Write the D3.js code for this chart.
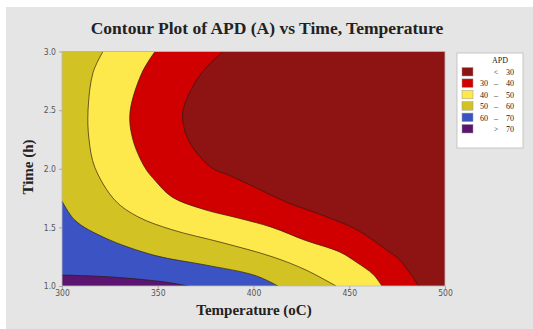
<!DOCTYPE html>
<html>
<head>
<meta charset="utf-8">
<script src="https://cdn.jsdelivr.net/npm/d3@7"></script>
<style>
  html, body { margin: 0; padding: 0; background: #fff; }
  svg { display: block; }
  .tick text { fill: #555; font: 8.5px "DejaVu Sans Condensed", "Liberation Sans", sans-serif; }
  .tick line, .domain { stroke: #aaa; }
</style>
</head>
<body>
<div id="chart"></div>
<script>
// APD legend bands, darkest (lowest APD) first
const bandLabels = [["", "<", "30"], ["30", "–", "40"], ["40", "–", "50"], ["50", "–", "60"], ["60", "–", "70"], ["", ">", "70"]];
const bandColors = ["#8e1414", "#d00000", "#fde94b", "#d3c224", "#3c54c3", "#5b1470"];
const tempTicks = [300, 350, 400, 450, 500];
const timeTicks = [1.0, 1.5, 2.0, 2.5, 3.0];

// contour lines: [temperature, time]
const line30 = [[384, 3.0], [373, 2.82], [365, 2.59], [363, 2.47], [364, 2.33], [368, 2.19], [378, 2.01], [388, 1.94], [401, 1.84], [418, 1.71], [435, 1.61], [454, 1.48], [467.6, 1.33], [476.5, 1.22], [481.7, 1.11], [486.4, 1.0]];
const line40 = [[348.6, 3.0], [341.8, 2.82], [335.5, 2.48], [337, 2.25], [343.3, 2.01], [348.6, 1.9], [357.4, 1.76], [374.7, 1.65], [391.9, 1.58], [409.7, 1.5], [426.9, 1.39], [445, 1.29], [454, 1.2], [462.4, 1.1], [467.1, 1.0]];
const line50 = [[321.4, 3.0], [316.2, 2.82], [313.6, 2.5], [314.1, 2.25], [317.2, 2.01], [327.7, 1.73], [339.7, 1.59], [357.4, 1.48], [383.6, 1.37], [409.7, 1.25], [426.9, 1.14], [443.1, 1.0]];
const line60 = [[300, 1.725], [306.8, 1.56], [322.5, 1.41], [348.6, 1.26], [374.7, 1.18], [400.8, 1.09], [412.8, 1.0]];
const line70 = [[300, 1.094], [326, 1.077], [353.8, 1.034], [365.8, 1.0]];

const W = 533, H = 329;
const plot = { left: 62, right: 445, top: 51.5, bottom: 286 };

const svg = d3.select("#chart").append("svg").attr("width", W).attr("height", H);
svg.append("rect").attr("x", 6).attr("y", 7).attr("width", W - 6).attr("height", H - 7).attr("fill", "#e5e5e5");

const x = d3.scaleLinear().domain([300, 500]).range([plot.left, plot.right]);
const y = d3.scaleLinear().domain([1, 3]).range([plot.bottom, plot.top]);

svg.append("clipPath").attr("id", "plotClip").append("rect")
  .attr("x", plot.left).attr("y", plot.top).attr("width", plot.right - plot.left).attr("height", plot.bottom - plot.top);

const g = svg.append("g").attr("clip-path", "url(#plotClip)");
// lowest layer is the > 70 band
g.append("rect").attr("x", plot.left).attr("y", plot.top).attr("width", plot.right - plot.left).attr("height", plot.bottom - plot.top).attr("fill", bandColors[5]);

const curve = d3.line().x((d) => x(d[0])).y((d) => y(d[1])).curve(d3.curveCatmullRom.alpha(0.5));
const corners = [[500, 1], [500, 3], [300, 3]];
const lines = [line70, line60, line50, line40, line30];
lines.forEach((pts, i) => {
  const tail = corners.map((c) => `L${x(c[0])},${y(c[1])}`).join("");
  g.append("path").attr("d", curve(pts) + tail + "Z").attr("fill", bandColors[4 - i]);
});
g.selectAll("path.contour").data(lines).join("path").attr("class", "contour")
  .attr("d", (d) => curve(d)).attr("fill", "none").attr("stroke", "#2a1a10").attr("stroke-width", 0.8).attr("stroke-opacity", 0.85);

svg.append("rect").attr("x", plot.left).attr("y", plot.top).attr("width", plot.right - plot.left).attr("height", plot.bottom - plot.top)
  .attr("fill", "none").attr("stroke", "#bbb").attr("stroke-width", 0.8);

svg.append("g").attr("transform", `translate(0,${plot.bottom})`)
  .call(d3.axisBottom(x).tickValues(tempTicks).tickSize(3).tickPadding(1).tickFormat(d3.format("d")))
  .call((a) => a.select(".domain").remove());
svg.append("g").attr("transform", `translate(${plot.left},0)`)
  .call(d3.axisLeft(y).tickValues(timeTicks).tickSize(3).tickPadding(3).tickFormat(d3.format(".1f")))
  .call((a) => a.select(".domain").remove());

const serif = '"Liberation Serif", "DejaVu Serif", serif';
svg.append("text").attr("x", 267).attr("y", 34).attr("text-anchor", "middle")
  .attr("font-family", serif).attr("font-weight", "bold").attr("font-size", 17.5).attr("fill", "#222")
  .text("Contour Plot of APD (A) vs Time, Temperature");
svg.append("text").attr("x", 254).attr("y", 315).attr("text-anchor", "middle")
  .attr("font-family", serif).attr("font-weight", "bold").attr("font-size", 15).attr("fill", "#222")
  .text("Temperature (oC)");
svg.append("text").attr("transform", "translate(33,167) rotate(-90)").attr("text-anchor", "middle")
  .attr("font-family", serif).attr("font-weight", "bold").attr("font-size", 15).attr("fill", "#222")
  .text("Time (h)");

// legend
const lg = svg.append("g").attr("transform", "translate(457,53)");
lg.append("rect").attr("width", 66).attr("height", 95).attr("fill", "#fff").attr("stroke", "#bbb").attr("stroke-width", 0.8);
lg.append("text").attr("x", 43).attr("y", 10).attr("text-anchor", "middle")
  .attr("font-family", serif).attr("font-size", 8).attr("fill", "#222").text("APD");
const rows = lg.selectAll("g.row").data(bandLabels).join("g").attr("class", "row")
  .attr("transform", (d, i) => `translate(0,${14.5 + i * 11.4})`);
rows.append("rect").attr("x", 5).attr("width", 11).attr("height", 8.5)
  .attr("fill", (d, i) => bandColors[i]).attr("stroke", "#999").attr("stroke-width", 0.5);
rows.selectAll("text").data((d) => d).join("text")
  .attr("x", (d, j) => [31, 39, 57][j]).attr("y", 7.5)
  .attr("text-anchor", (d, j) => ["end", "middle", "end"][j])
  .attr("font-family", serif).attr("font-size", 8).attr("fill", "#222").text((d) => d);
</script>
</body>
</html>
